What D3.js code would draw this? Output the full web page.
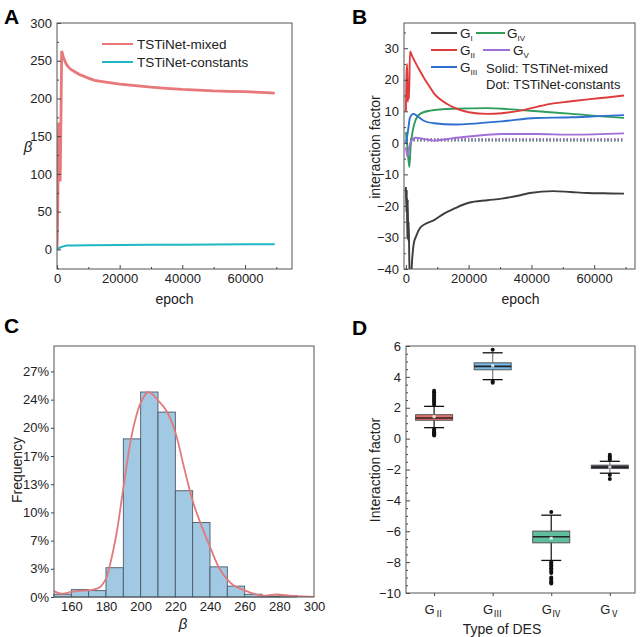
<!DOCTYPE html>
<html><head><meta charset="utf-8">
<script src="https://cdn.jsdelivr.net/npm/d3@7"></script>
<style>body{margin:0;background:#fff}text{font-family:"Liberation Sans",Arial,sans-serif;fill:#222}</style>
</head><body>
<svg id="c" width="641" height="637"></svg>
<script>
// ---------- Panel A data ----------
const epochA_mixed = [0,200,400,600,800,1000,1200,1500,2000,3000,4000,5000,7000,10000,12000,15000,20000,25000,30000,35000,40000,45000,50000,55000,60000,65000,69500];
const betaA_mixed  = [0,40,120,168,160,90,150,263,255,245,240,237,232,227,224,222,219,217,215,213.5,212,211,210,209.5,209,208,207];
const epochA_const = [0,500,1000,2000,3000,5000,10000,20000,30000,40000,50000,60000,69500];
const betaA_const  = [0,1,2.5,4,5,5.2,5.5,5.8,6,6.2,6.5,6.7,6.8];
const seriesA = ["TSTiNet-mixed","TSTiNet-constants"];

// ---------- Panel B data ----------
const epochB_GI  = [0,150,300,450,600,750,900,1100,1300,1600,2000,2500,3300,4500,6000,9000,12000,15500,20000,26000,30500,36500,39500,47000,52500,58000,63000,69500];
const valB_GI    = [-14,-22,-15,-30,-18,-31,-25,-38,-43,-43,-37,-32,-29.5,-27,-25.8,-24.5,-22.5,-20.8,-19,-18.2,-17.7,-16.6,-15.9,-15.3,-15.6,-15.9,-16,-16.1];
const epochB_GII = [0,200,400,600,800,1000,1300,2000,3000,4500,6000,7700,9000,10800,13000,15000,20000,26000,30500,36500,42000,47000,52000,58000,64000,69500];
const valB_GII   = [10,22,25,13,18,14,29,27.5,25.5,22.8,20.2,17.6,15.6,13.9,12.4,11.3,9.7,9.2,9.4,10.2,11.5,12.5,13.1,13.8,14.4,15];
const epochB_GIII= [0,700,1300,2400,3500,5700,9000,15500,20000,30500,41500,53000,60000,69500];
const valB_GIII  = [0,4,8,9.2,8.6,7,6.2,5.8,6,6.8,7.9,8.1,8.4,8.8];
const epochB_GIV = [0,500,1100,1500,2200,3000,4500,7700,15000,26000,32500,42000,53000,63500,69500];
const valB_GIV   = [3.4,-1.4,-7.7,-1.4,3.9,7,9.2,10.2,10.8,11,10.7,10,9.2,8.3,7.9];
const epochB_GV  = [0,500,900,1500,3000,4500,9000,15000,20000,30500,41500,53000,69500];
const valB_GV    = [-1.4,-4.5,-2.4,0.2,1.6,1.5,0.7,1.5,2,2.8,2.8,2.6,3];
const epochB_const = [300,69500];
const valB_const = {GI:[0.7,0.7],GII:[1.2,1.2],GIII:[1.0,1.0],GIV:[0.9,0.9],GV:[1.1,1.1]};
const groupsB = ["I","II","III","IV","V"];

// ---------- Panel C data ----------
const binStartsC = [150,160,170,180,190,200,210,220,230,240,250,260,270,280,290];
const freqC = [0.0033,0.0088,0.0076,0.035,0.189,0.245,0.221,0.127,0.089,0.036,0.013,0.0033,0.0011,0.0015,0];
const kdeX = [150,154,160,166,171,176,180,182,186,190,195,200,204.5,210,215,220,225,230,234,240,246,253.5,260,265,270,278.5,286,293,300];
const kdeY = [0.007,0.004,0.006,0.0075,0.0082,0.011,0.022,0.036,0.075,0.13,0.195,0.232,0.245,0.235,0.222,0.197,0.155,0.115,0.091,0.06,0.032,0.014,0.008,0.004,0.0016,0.003,0.0016,0.0006,0];
const tickValsC = [0,0.0337,0.0674,0.1011,0.1348,0.1685,0.2022,0.2359,0.2696];
const tickLabsC = ["0%","3%","7%","10%","13%","17%","20%","24%","27%"];

// ---------- Panel D data ----------
const catsD = ["Ⅱ","Ⅲ","Ⅳ","Ⅴ"];
const q1D  = [1.19,4.46,-6.75,-1.94];
const medD = [1.34,4.68,-6.36,-1.85];
const q3D  = [1.55,4.91,-5.99,-1.72];
const meanD= [1.42,4.72,-6.45,-1.84];
const loD  = [0.71,3.82,-7.89,-2.24];
const hiD  = [2.09,5.56,-4.96,-1.47];
const outD = [
  [2.2,2.3,2.4,2.5,2.6,2.7,2.8,2.9,3.0,3.1,0.6,0.5,0.42,0.35,0.28,0.2],
  [5.75,3.7,3.62],
  [-4.75,-8.0,-8.1,-8.2,-8.3,-8.4,-8.5,-8.6,-8.7,-9.0,-9.1,-9.2,-9.3,-9.38],
  [-1.05,-1.15,-1.25,-1.35,-2.35,-2.62]
];
const fillD = ["#e8706a","#76bbe9","#5fbf9d","#4a3a52"];
const stemD = ["#222","#888","#222","#888"];

const svg = d3.select("#c");
const FS = 13;

function frame(g, x0, y0, x1, y1){
  g.append("rect").attr("x",x0).attr("y",y0).attr("width",x1-x0).attr("height",y1-y0)
   .attr("fill","none").attr("stroke","#555").attr("stroke-width",1);
}
function styleAxis(a){
  a.select(".domain").remove();
  a.selectAll(".tick line").attr("stroke","#444");
  a.selectAll(".tick text").style("font-size",FS+"px").style("fill","#222");
}
function panelLetter(t,x,y){
  svg.append("text").attr("x",x).attr("y",y).text(t)
    .style("font-size","21px").style("font-weight","bold").style("fill","#000");
}

// ================= Panel A =================
{
  const L=57,R=292,T=23,B=269;
  const x=d3.scaleLinear().domain([0,75000]).range([L,R]);
  const y=d3.scaleLinear().domain([-26,300]).range([B,T]);
  const g=svg.append("g");
  g.append("clipPath").attr("id","clipA").append("rect").attr("x",L).attr("y",T).attr("width",R-L).attr("height",B-T);
  const line=d3.line().x(d=>x(d[0])).y(d=>y(d[1]));
  g.append("path").datum(epochA_mixed.map((e,i)=>[e,betaA_mixed[i]])).attr("d",line)
    .attr("fill","none").attr("stroke","#e8787a").attr("stroke-width",2.8).attr("clip-path","url(#clipA)");
  g.append("path").datum(epochA_const.map((e,i)=>[e,betaA_const[i]])).attr("d",line)
    .attr("fill","none").attr("stroke","#1fb8c4").attr("stroke-width",2).attr("clip-path","url(#clipA)");
  const ax=g.append("g").attr("transform",`translate(0,${B})`).call(d3.axisBottom(x).tickValues([0,20000,40000,60000]).tickSize(-4).tickPadding(5).tickFormat(d3.format("d")));
  styleAxis(ax);
  const axm=g.append("g").attr("transform",`translate(0,${B})`).call(d3.axisBottom(x).tickValues([10000,30000,50000,70000]).tickSize(-2).tickFormat(""));
  styleAxis(axm);
  const ay=g.append("g").attr("transform",`translate(${L},0)`).call(d3.axisLeft(y).tickValues([0,50,100,150,200,250,300]).tickSize(-4).tickPadding(5));
  styleAxis(ay);
  const aym=g.append("g").attr("transform",`translate(${L},0)`).call(d3.axisLeft(y).tickValues([-25,25,75,125,175,225,275]).tickSize(-2).tickFormat(""));
  styleAxis(aym);
  frame(g,L,T,R,B);
  const cols=["#e8787a","#1fb8c4"];
  seriesA.forEach((s,i)=>{
    const yy=44+i*18;
    g.append("line").attr("x1",102).attr("x2",133).attr("y1",yy).attr("y2",yy).attr("stroke",cols[i]).attr("stroke-width",2);
    g.append("text").attr("x",137).attr("y",yy+5).text(s).style("font-size","13.5px");
  });
  g.append("text").attr("x",(L+R)/2).attr("y",304).attr("text-anchor","middle").text("epoch").style("font-size","14px");
  g.append("text").attr("x",28).attr("y",152).attr("text-anchor","middle").text("β").style("font-size","15px").style("font-style","italic");
  panelLetter("A",4,24);
}

// ================= Panel B =================
{
  const L=404,R=635,T=23,B=269;
  const x=d3.scaleLinear().domain([-600,73000]).range([L,R]);
  const y=d3.scaleLinear().domain([-40,38]).range([B,T]);
  const g=svg.append("g");
  g.append("clipPath").attr("id","clipB").append("rect").attr("x",L).attr("y",T).attr("width",R-L).attr("height",B-T);
  const line=d3.line().x(d=>x(d[0])).y(d=>y(d[1])).curve(d3.curveMonotoneX);
  const cols={I:"#3d3d3d",II:"#e03b3b",III:"#2f6fcf",IV:"#2f9e5c",V:"#a070d6"};
  const dat={I:[epochB_GI,valB_GI],II:[epochB_GII,valB_GII],III:[epochB_GIII,valB_GIII],IV:[epochB_GIV,valB_GIV],V:[epochB_GV,valB_GV]};
  const ckeys=["GI","GII","GIII","GIV","GV"];
  ckeys.forEach((k,i)=>{
    g.append("path").datum(epochB_const.map((e,j)=>[e,valB_const[k][j]])).attr("d",d3.line().x(d=>x(d[0])).y(d=>y(d[1])))
      .attr("fill","none").attr("stroke",d3.color(cols[groupsB[i]]).copy({opacity:0.7})).attr("stroke-width",2.2).attr("stroke-dasharray","1.2,2.2").attr("clip-path","url(#clipB)");
  });
  ["I","IV","III","V","II"].forEach(k=>{
    g.append("path").datum(dat[k][0].map((e,i)=>[e,dat[k][1][i]])).attr("d",line)
      .attr("fill","none").attr("stroke",cols[k]).attr("stroke-width",1.9).attr("clip-path","url(#clipB)");
  });
  const ax=g.append("g").attr("transform",`translate(0,${B})`).call(d3.axisBottom(x).tickValues([0,20000,40000,60000]).tickSize(-4).tickPadding(5).tickFormat(d3.format("d")));
  styleAxis(ax);
  const axm=g.append("g").attr("transform",`translate(0,${B})`).call(d3.axisBottom(x).tickValues([10000,30000,50000,70000]).tickSize(-2).tickFormat(""));
  styleAxis(axm);
  const ay=g.append("g").attr("transform",`translate(${L},0)`).call(d3.axisLeft(y).tickValues([-40,-30,-20,-10,0,10,20,30]).tickSize(-4).tickPadding(5));
  styleAxis(ay);
  const aym=g.append("g").attr("transform",`translate(${L},0)`).call(d3.axisLeft(y).tickValues([-35,-25,-15,-5,5,15,25,35]).tickSize(-2).tickFormat(""));
  styleAxis(aym);
  frame(g,L,T,R,B);
  // legend
  const leg=[{k:"I",x1:431,x2:457,tx:460,y:33},{k:"II",x1:431,x2:457,tx:460,y:50},{k:"III",x1:431,x2:457,tx:460,y:67},
             {k:"IV",x1:476,x2:505,tx:507,y:33},{k:"V",x1:483,x2:510,tx:513,y:50}];
  leg.forEach(o=>{
    g.append("line").attr("x1",o.x1).attr("x2",o.x2).attr("y1",o.y).attr("y2",o.y).attr("stroke",cols[o.k]).attr("stroke-width",2);
    const t=g.append("text").attr("x",o.tx).attr("y",o.y+5).style("font-size","13.5px");
    t.append("tspan").text("G");
    t.append("tspan").text(o.k).attr("dy",3).style("font-size","8px");
  });
  g.append("text").attr("x",486).attr("y",73).text("Solid: TSTiNet-mixed").style("font-size","13px");
  g.append("text").attr("x",486).attr("y",89).text("Dot: TSTiNet-constants").style("font-size","13px");
  g.append("text").attr("x",(L+R)/2+1).attr("y",304).attr("text-anchor","middle").text("epoch").style("font-size","14px");
  g.append("text").attr("transform",`translate(380,147) rotate(-90)`).attr("text-anchor","middle").text("interaction factor").style("font-size","14px");
  panelLetter("B",352,24);
}

// ================= Panel C =================
{
  const L=54,R=314,T=346,B=597;
  const x=d3.scaleLinear().domain([150,300]).range([L,R]);
  const y=d3.scaleLinear().domain([0,0.30]).range([B,T]);
  const g=svg.append("g");
  g.append("clipPath").attr("id","clipC").append("rect").attr("x",L).attr("y",T).attr("width",R-L).attr("height",B-T);
  g.selectAll("rect.bar").data(binStartsC.map((s,i)=>({s,f:freqC[i]})).filter(d=>d.f>0)).enter().append("rect")
    .attr("class","bar").attr("x",d=>x(d.s)).attr("width",d=>x(d.s+10)-x(d.s)).attr("y",d=>y(d.f)).attr("height",d=>B-y(d.f))
    .attr("fill","#a2c9e3").attr("stroke","#4a5866").attr("stroke-width",0.9);
  g.append("path").datum(kdeX.map((v,i)=>[v,kdeY[i]])).attr("d",d3.line().x(d=>x(d[0])).y(d=>y(d[1])).curve(d3.curveCatmullRom))
    .attr("fill","none").attr("stroke","#e07a7c").attr("stroke-width",1.8).attr("clip-path","url(#clipC)");
  const ax=g.append("g").attr("transform",`translate(0,${B})`).call(d3.axisBottom(x).tickValues([160,180,200,220,240,260,280,300]).tickSize(0).tickPadding(5));
  styleAxis(ax);
  const ay=g.append("g").attr("transform",`translate(${L},0)`).call(d3.axisLeft(y).tickValues(tickValsC).tickSize(3).tickPadding(2).tickFormat((d,i)=>tickLabsC[i]));
  styleAxis(ay);
  frame(g,L,T,R,B);
  g.append("text").attr("x",183).attr("y",629).attr("text-anchor","middle").text("β").style("font-size","15px").style("font-style","italic");
  g.append("text").attr("transform",`translate(22,470) rotate(-90)`).attr("text-anchor","middle").text("Frequency").style("font-size","14px");
  panelLetter("C",4,333);
}

// ================= Panel D =================
{
  const L=406,R=635,T=346,B=593;
  const x=d3.scaleLinear().domain([0.52,4.43]).range([L,R]);
  const y=d3.scaleLinear().domain([-10,6]).range([B,T]);
  const g=svg.append("g");
  const bw=18.5, cw=10;
  catsD.forEach((c,i)=>{
    const cx=x(i+1);
    g.append("line").attr("x1",cx).attr("x2",cx).attr("y1",y(loD[i])).attr("y2",y(hiD[i])).attr("stroke",stemD[i]).attr("stroke-width",1.3);
    [loD[i],hiD[i]].forEach(v=>g.append("line").attr("x1",cx-cw).attr("x2",cx+cw).attr("y1",y(v)).attr("y2",y(v)).attr("stroke","#111").attr("stroke-width",1.3));
    g.append("rect").attr("x",cx-bw).attr("width",2*bw).attr("y",y(q3D[i])).attr("height",y(q1D[i])-y(q3D[i]))
      .attr("fill",fillD[i]).attr("stroke","#555").attr("stroke-width",1);
    g.append("line").attr("x1",cx-bw).attr("x2",cx+bw).attr("y1",y(medD[i])).attr("y2",y(medD[i])).attr("stroke","#222").attr("stroke-width",1.6);
    g.append("rect").attr("x",cx-1.5).attr("y",y(meanD[i])-1.5).attr("width",3).attr("height",3).attr("fill","#fff").attr("opacity",0.8);
    outD[i].forEach(v=>g.append("circle").attr("cx",cx).attr("cy",y(v)).attr("r",2).attr("fill","#111"));
  });
  const ay=g.append("g").attr("transform",`translate(${L},0)`).call(d3.axisLeft(y).tickValues(d3.range(-10,7,2)).tickSize(-4).tickPadding(5));
  styleAxis(ay);
  const aym=g.append("g").attr("transform",`translate(${L},0)`).call(d3.axisLeft(y).tickValues(d3.range(-9.5,6,0.5).filter(v=>Math.abs(v%2)>0.01)).tickSize(-2).tickFormat(""));
  styleAxis(aym);
  const ax=g.append("g").attr("transform",`translate(0,${B})`).call(d3.axisBottom(x).tickValues([1,2,3,4]).tickSize(3).tickPadding(6).tickFormat(""));
  styleAxis(ax);
  catsD.forEach((c,i)=>{
    const t=g.append("text").attr("x",x(i+1)).attr("y",B+21).attr("text-anchor","middle").style("font-size","13px");
    t.append("tspan").text("G");
    t.append("tspan").text(c).attr("dy",3).style("font-size","9px").style("font-family","'Noto Sans CJK SC',serif");
  });
  frame(g,L,T,R,B);
  g.append("text").attr("x",502).attr("y",634).attr("text-anchor","middle").text("Type of DES").style("font-size","14px");
  g.append("text").attr("transform",`translate(380,470) rotate(-90)`).attr("text-anchor","middle").text("Interaction factor").style("font-size","14px");
  panelLetter("D",352,335);
}
</script>
</body></html>
